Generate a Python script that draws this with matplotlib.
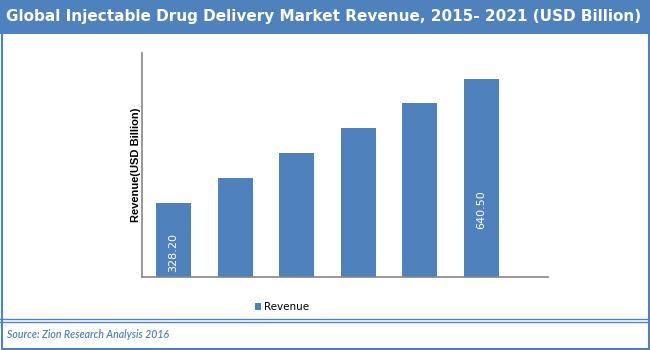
import matplotlib
matplotlib.use("Agg")
import matplotlib.pyplot as plt
from matplotlib.patches import Rectangle
from matplotlib.lines import Line2D

title = "Global Injectable Drug Delivery Market Revenue, 2015- 2021 (USD Billion)"
years = ["2015", "2016", "2017", "2018", "2019", "2020"]
revenue = [328.2, 391.2, 454.2, 517.1, 580.1, 640.5]
label_text = ["328.20", "", "", "", "", "640.50"]
series_name = "Revenue"
ylabel = "Revenue(USD Billion)"
source = "Source: Zion Research Analysis 2016"

BLUE = "#4F81BD"
W, H = 650, 350
fig = plt.figure(figsize=(6.5, 3.5), dpi=100)
fig.patch.set_facecolor("white")

def fx(px):
    return px / W

def fy(py):
    return 1 - py / H

# title bar
fig.add_artist(Rectangle((0, fy(34)), 1, 34 / H, transform=fig.transFigure,
                         facecolor=BLUE, edgecolor="none", zorder=0))
fig.text(fx(324), fy(17), title, color="white", fontsize=11, fontweight="bold",
         family="DejaVu Sans", ha="center", va="center")

# outer border
fig.add_artist(Rectangle((fx(1.5), fy(348.5)), fx(647), 347 / H, transform=fig.transFigure,
                         facecolor="none", edgecolor=BLUE, linewidth=1.5, zorder=5))
# footer double line
for yy in (319, 322):
    fig.add_artist(Line2D([0, 1], [fy(yy), fy(yy)], transform=fig.transFigure,
                          color=BLUE, linewidth=1.0))
fig.text(fx(7), fy(334), source, color=BLUE, fontsize=7.6, style="italic",
         fontweight="semibold", family="Lato", ha="left", va="center")

# axes
ax = fig.add_axes([fx(142), fy(277.3), fx(548 - 142), (277.3 - 53) / H])
x = list(range(len(years)))
bars = ax.bar(x, revenue, width=0.568, color=BLUE, label=series_name, zorder=2)
ymin = 141.8
ax.set_ylim(ymin, 706)
ax.set_xlim(-0.51, 6.08)
for b, v, t in zip(bars, revenue, label_text):
    if t:
        ax.text(b.get_x() + b.get_width() / 2, ymin + (v - ymin) * 0.34, t,
                rotation=90, color="white", fontsize=8, ha="center", va="center",
                family="DejaVu Sans")
ax.set_xticks([])
ax.set_yticks([])
for s in ("top", "right"):
    ax.spines[s].set_visible(False)
for s in ("left", "bottom"):
    ax.spines[s].set_color("#868686")
    ax.spines[s].set_linewidth(1.2)
ax.set_ylabel(ylabel, fontsize=8, fontweight="bold", family="Liberation Sans", labelpad=1)

leg = fig.legend(handles=[bars], labels=[series_name], loc="center",
                 bbox_to_anchor=(fx(282), fy(307)), frameon=False, fontsize=7.5,
                 handlelength=0.6, handleheight=0.6, handletextpad=0.3)

fig.savefig("out.png", dpi=100)
